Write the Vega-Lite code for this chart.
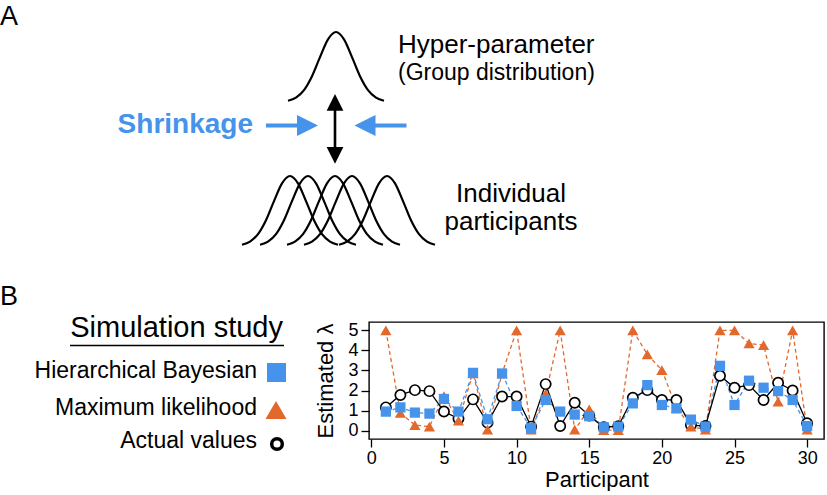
{
  "$schema": "https://vega.github.io/schema/vega-lite/v6.json",
  "padding": 0,
  "spacing": 0,
  "bounds": "flush",
  "background": "white",
  "config": {"view": {"stroke": null}, "font": "Liberation Sans"},
  "datasets": {
    "curves": [
      {"curve":"top","x":288,"y":100.7},{"curve":"top","x":296,"y":97.6},{"curve":"top","x":304,"y":90.1},{"curve":"top","x":312,"y":76.2},{"curve":"top","x":320,"y":57.1},{"curve":"top","x":328,"y":39.3},{"curve":"top","x":336,"y":32.0},{"curve":"top","x":344,"y":39.3},{"curve":"top","x":352,"y":57.1},{"curve":"top","x":360,"y":76.2},{"curve":"top","x":368,"y":90.1},{"curve":"top","x":376,"y":97.6},{"curve":"top","x":384,"y":100.7},
      {"curve":"b1","x":242,"y":244.7},{"curve":"b1","x":250,"y":241.6},{"curve":"b1","x":258,"y":234.1},{"curve":"b1","x":266,"y":220.2},{"curve":"b1","x":274,"y":201.1},{"curve":"b1","x":282,"y":183.3},{"curve":"b1","x":290,"y":176.0},{"curve":"b1","x":298,"y":183.3},{"curve":"b1","x":306,"y":201.1},{"curve":"b1","x":314,"y":220.2},{"curve":"b1","x":322,"y":234.1},{"curve":"b1","x":330,"y":241.6},{"curve":"b1","x":338,"y":244.7},
      {"curve":"b2","x":260,"y":244.7},{"curve":"b2","x":268,"y":241.6},{"curve":"b2","x":276,"y":234.1},{"curve":"b2","x":284,"y":220.2},{"curve":"b2","x":292,"y":201.1},{"curve":"b2","x":300,"y":183.3},{"curve":"b2","x":308,"y":176.0},{"curve":"b2","x":316,"y":183.3},{"curve":"b2","x":324,"y":201.1},{"curve":"b2","x":332,"y":220.2},{"curve":"b2","x":340,"y":234.1},{"curve":"b2","x":348,"y":241.6},{"curve":"b2","x":356,"y":244.7},
      {"curve":"b3","x":287,"y":244.7},{"curve":"b3","x":295,"y":241.6},{"curve":"b3","x":303,"y":234.1},{"curve":"b3","x":311,"y":220.2},{"curve":"b3","x":319,"y":201.1},{"curve":"b3","x":327,"y":183.3},{"curve":"b3","x":335,"y":176.0},{"curve":"b3","x":343,"y":183.3},{"curve":"b3","x":351,"y":201.1},{"curve":"b3","x":359,"y":220.2},{"curve":"b3","x":367,"y":234.1},{"curve":"b3","x":375,"y":241.6},{"curve":"b3","x":383,"y":244.7},
      {"curve":"b4","x":304,"y":244.7},{"curve":"b4","x":312,"y":241.6},{"curve":"b4","x":320,"y":234.1},{"curve":"b4","x":328,"y":220.2},{"curve":"b4","x":336,"y":201.1},{"curve":"b4","x":344,"y":183.3},{"curve":"b4","x":352,"y":176.0},{"curve":"b4","x":360,"y":183.3},{"curve":"b4","x":368,"y":201.1},{"curve":"b4","x":376,"y":220.2},{"curve":"b4","x":384,"y":234.1},{"curve":"b4","x":392,"y":241.6},{"curve":"b4","x":400,"y":244.7},
      {"curve":"b5","x":339,"y":244.7},{"curve":"b5","x":347,"y":241.6},{"curve":"b5","x":355,"y":234.1},{"curve":"b5","x":363,"y":220.2},{"curve":"b5","x":371,"y":201.1},{"curve":"b5","x":379,"y":183.3},{"curve":"b5","x":387,"y":176.0},{"curve":"b5","x":395,"y":183.3},{"curve":"b5","x":403,"y":201.1},{"curve":"b5","x":411,"y":220.2},{"curve":"b5","x":419,"y":234.1},{"curve":"b5","x":427,"y":241.6},{"curve":"b5","x":435,"y":244.7}
    ],
    "labels": [
      {"kind":"panel","label":"A","x":0,"y":25},
      {"kind":"panel","label":"B","x":0,"y":305},
      {"kind":"hyper","label":"Hyper-parameter","x":398,"y":53},
      {"kind":"group","label":"(Group distribution)","x":398,"y":80},
      {"kind":"indiv","label":"Individual","x":511,"y":202},
      {"kind":"indiv","label":"participants","x":511,"y":230},
      {"kind":"shrink","label":"Shrinkage","x":253,"y":133}
    ],
    "shafts": [{"x":266,"x2":298,"y":125.5},{"x":375,"x2":406.5,"y":125.5}],
    "vshaft": [{"x":335,"y":106,"y2":151}],
    "heads": [
      {"kind":"right","x":307.5,"y":125.5},
      {"kind":"left","x":365,"y":125.5},
      {"kind":"up","x":335,"y":102.3},
      {"kind":"down","x":335,"y":155.3}
    ],
    "legendText": [
      {"kind":"title","label":"Simulation study","x":283,"y":337},
      {"kind":"item","label":"Hierarchical Bayesian","x":257,"y":378},
      {"kind":"item","label":"Maximum likelihood","x":257,"y":415},
      {"kind":"item","label":"Actual values","x":257,"y":448}
    ],
    "underline": [{"x":70,"x2":284,"y":345.5}],
    "legendSymbols": [
      {"series":"hb","x":276.5,"y":372.5},
      {"series":"ml","x":276,"y":410},
      {"series":"actual","x":277,"y":444}
    ],
    "sim": [
      {"participant":1,"hb":0.95,"ml":5.0,"actual":1.16},
      {"participant":2,"hb":1.16,"ml":0.88,"actual":1.78},
      {"participant":3,"hb":0.90,"ml":0.28,"actual":2.02},
      {"participant":4,"hb":0.85,"ml":0.20,"actual":1.97},
      {"participant":5,"hb":1.58,"ml":1.72,"actual":0.95},
      {"participant":6,"hb":0.95,"ml":0.50,"actual":0.60},
      {"participant":7,"hb":2.88,"ml":2.85,"actual":1.56},
      {"participant":8,"hb":0.57,"ml":0.05,"actual":0.40},
      {"participant":9,"hb":2.85,"ml":2.85,"actual":1.70},
      {"participant":10,"hb":1.23,"ml":5.0,"actual":1.70},
      {"participant":11,"hb":0.14,"ml":0.05,"actual":0.20},
      {"participant":12,"hb":1.53,"ml":1.83,"actual":2.32},
      {"participant":13,"hb":0.95,"ml":5.0,"actual":0.23},
      {"participant":14,"hb":0.80,"ml":0.05,"actual":1.39},
      {"participant":15,"hb":0.72,"ml":1.06,"actual":0.76},
      {"participant":16,"hb":0.17,"ml":0.03,"actual":0.17},
      {"participant":17,"hb":0.20,"ml":0.03,"actual":0.22},
      {"participant":18,"hb":1.36,"ml":5.0,"actual":1.64},
      {"participant":19,"hb":2.27,"ml":3.80,"actual":2.02},
      {"participant":20,"hb":1.28,"ml":3.02,"actual":1.53},
      {"participant":21,"hb":1.11,"ml":1.15,"actual":1.53},
      {"participant":22,"hb":0.55,"ml":0.20,"actual":0.28},
      {"participant":23,"hb":0.20,"ml":0.05,"actual":0.23},
      {"participant":24,"hb":3.23,"ml":5.0,"actual":2.74},
      {"participant":25,"hb":1.28,"ml":5.0,"actual":2.14},
      {"participant":26,"hb":2.49,"ml":4.35,"actual":2.27},
      {"participant":27,"hb":2.14,"ml":4.26,"actual":1.53},
      {"participant":28,"hb":1.97,"ml":1.44,"actual":2.39},
      {"participant":29,"hb":1.53,"ml":5.0,"actual":2.00},
      {"participant":30,"hb":0.23,"ml":0.05,"actual":0.37}
    ]
  },
  "vconcat": [
    {
      "width": 827,
      "height": 322,
      "encoding": {
        "x": {"field":"x","type":"quantitative","scale":{"domain":[0,827],"nice":false,"zero":false},"axis":null},
        "y": {"field":"y","type":"quantitative","scale":{"domain":[0,322],"nice":false,"zero":false,"reverse":true},"axis":null}
      },
      "layer": [
        {
          "data": {"name":"curves"},
          "mark": {"type":"line","interpolate":"monotone","color":"black","strokeWidth":2.2},
          "encoding": {"detail":{"field":"curve"},"order":{"field":"x","type":"quantitative"}}
        },
        {
          "data": {"name":"shafts"},
          "mark": {"type":"rule","color":"#4593ea","strokeWidth":4},
          "encoding": {"x2":{"field":"x2"}}
        },
        {
          "data": {"name":"vshaft"},
          "mark": {"type":"rule","color":"black","strokeWidth":2.6},
          "encoding": {"y2":{"field":"y2"}}
        },
        {
          "data": {"name":"heads"},
          "transform": [{"filter":"datum.kind === 'right'"}],
          "mark": {"type":"point","shape":"M1,0L-1,-1L-1,1Z","filled":true,"color":"#4593ea","opacity":1,"size":441}
        },
        {
          "data": {"name":"heads"},
          "transform": [{"filter":"datum.kind === 'left'"}],
          "mark": {"type":"point","shape":"M-1,0L1,-1L1,1Z","filled":true,"color":"#4593ea","opacity":1,"size":441}
        },
        {
          "data": {"name":"heads"},
          "transform": [{"filter":"datum.kind === 'up'"}],
          "mark": {"type":"point","shape":"M0,-1L1,1L-1,1Z","filled":true,"color":"black","opacity":1,"size":279}
        },
        {
          "data": {"name":"heads"},
          "transform": [{"filter":"datum.kind === 'down'"}],
          "mark": {"type":"point","shape":"M0,1L1,-1L-1,-1Z","filled":true,"color":"black","opacity":1,"size":279}
        },
        {
          "data": {"name":"labels"},
          "transform": [{"filter":"datum.kind === 'panel'"}],
          "mark": {"type":"text","align":"left","baseline":"alphabetic","fontSize":27,"color":"black","font":"Liberation Sans"},
          "encoding": {"text":{"field":"label"}}
        },
        {
          "data": {"name":"labels"},
          "transform": [{"filter":"datum.kind === 'hyper'"}],
          "mark": {"type":"text","align":"left","baseline":"alphabetic","fontSize":26,"color":"black","font":"Liberation Sans"},
          "encoding": {"text":{"field":"label"}}
        },
        {
          "data": {"name":"labels"},
          "transform": [{"filter":"datum.kind === 'group'"}],
          "mark": {"type":"text","align":"left","baseline":"alphabetic","fontSize":23,"color":"black","font":"Liberation Sans"},
          "encoding": {"text":{"field":"label"}}
        },
        {
          "data": {"name":"labels"},
          "transform": [{"filter":"datum.kind === 'indiv'"}],
          "mark": {"type":"text","align":"center","baseline":"alphabetic","fontSize":26,"color":"black","font":"Liberation Sans"},
          "encoding": {"text":{"field":"label"}}
        },
        {
          "data": {"name":"labels"},
          "transform": [{"filter":"datum.kind === 'shrink'"}],
          "mark": {"type":"text","align":"right","baseline":"alphabetic","fontSize":28,"fontWeight":"bold","color":"#4593ea","font":"Liberation Sans"},
          "encoding": {"text":{"field":"label"}}
        }
      ]
    },
    {
      "spacing": 0,
      "bounds": "flush",
      "hconcat": [
        {
          "width": 369,
          "height": 140,
          "encoding": {
            "x": {"field":"x","type":"quantitative","scale":{"domain":[0,369],"nice":false,"zero":false},"axis":null},
            "y": {"field":"y","type":"quantitative","scale":{"domain":[322,462],"nice":false,"zero":false,"reverse":true},"axis":null}
          },
          "layer": [
            {
              "data": {"name":"legendText"},
              "transform": [{"filter":"datum.kind === 'title'"}],
              "mark": {"type":"text","align":"right","baseline":"alphabetic","fontSize":29,"color":"black","font":"Liberation Sans"},
              "encoding": {"text":{"field":"label"}}
            },
            {
              "data": {"name":"underline"},
              "mark": {"type":"rule","color":"black","strokeWidth":1.6},
              "encoding": {"x2":{"field":"x2"}}
            },
            {
              "data": {"name":"legendText"},
              "transform": [{"filter":"datum.kind === 'item'"}],
              "mark": {"type":"text","align":"right","baseline":"alphabetic","fontSize":23,"color":"black","font":"Liberation Sans"},
              "encoding": {"text":{"field":"label"}}
            },
            {
              "data": {"name":"legendSymbols"},
              "transform": [{"filter":"datum.series === 'hb'"}],
              "mark": {"type":"point","shape":"square","filled":true,"color":"#4593ea","opacity":1,"size":361}
            },
            {
              "data": {"name":"legendSymbols"},
              "transform": [{"filter":"datum.series === 'ml'"}],
              "mark": {"type":"point","shape":"triangle-up","filled":true,"color":"#e2682c","opacity":1,"size":441}
            },
            {
              "data": {"name":"legendSymbols"},
              "transform": [{"filter":"datum.series === 'actual'"}],
              "mark": {"type":"point","shape":"circle","filled":false,"fill":"white","stroke":"black","strokeWidth":3.5,"opacity":1,"size":113}
            }
          ]
        },
        {
          "width": 455,
          "height": 117,
          "view": {"stroke":"black","strokeWidth":1.4},
          "data": {"name":"sim"},
          "transform": [{"fold":["ml","hb","actual"],"as":["series","value"]}],
          "encoding": {
            "x": {"field":"participant","type":"quantitative","scale":{"domain":[-0.16,31.16],"nice":false,"zero":false},
              "axis":{"values":[0,5,10,15,20,25,30],"title":"Participant","grid":false,"domain":false,"labelOverlap":false,"tickSize":8,"tickWidth":1.3,"tickColor":"black","labelFontSize":18,"labelColor":"black","labelFont":"Liberation Sans","labelPadding":2,"titleFontSize":22,"titleFontWeight":"normal","titleFont":"Liberation Sans","titleColor":"black","titlePadding":2}},
            "y": {"field":"value","type":"quantitative","scale":{"domain":[-0.416,5.416],"nice":false,"zero":false},
              "axis":{"values":[0,1,2,3,4,5],"title":"Estimated λ","grid":false,"domain":false,"labelOverlap":false,"labelBound":false,"tickSize":8,"tickWidth":1.3,"tickColor":"black","labelFontSize":18,"labelColor":"black","labelFont":"Liberation Sans","labelPadding":3,"titleFontSize":22,"titleFontWeight":"normal","titleFont":"Liberation Sans","titleColor":"black","titlePadding":10}}
          },
          "layer": [
            {
              "transform": [{"filter":"datum.series === 'ml'"}],
              "mark": {"type":"line","color":"#e2682c","strokeWidth":1.3,"strokeDash":[4,3]}
            },
            {
              "transform": [{"filter":"datum.series === 'hb'"}],
              "mark": {"type":"line","color":"#4593ea","strokeWidth":1.3,"strokeDash":[4,3]}
            },
            {
              "transform": [{"filter":"datum.series === 'actual'"}],
              "mark": {"type":"line","color":"black","strokeWidth":1.3}
            },
            {
              "transform": [{"filter":"datum.series === 'actual'"}],
              "mark": {"type":"point","shape":"circle","filled":false,"fill":"white","stroke":"black","strokeWidth":1.7,"opacity":1,"size":105}
            },
            {
              "transform": [{"filter":"datum.series === 'ml'"}],
              "mark": {"type":"point","shape":"triangle-up","filled":true,"color":"#e2682c","opacity":1,"size":125}
            },
            {
              "transform": [{"filter":"datum.series === 'hb'"}],
              "mark": {"type":"point","shape":"square","filled":true,"color":"#4593ea","opacity":1,"size":105}
            }
          ]
        }
      ]
    }
  ]
}
